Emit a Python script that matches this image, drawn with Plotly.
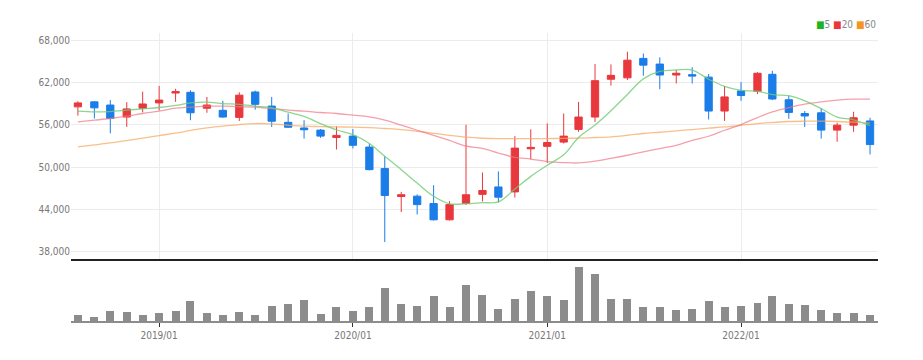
import pandas as pd
import plotly.graph_objects as go

dates = pd.date_range("2018-08-01", periods=50, freq="MS")

open_ = [58540, 59250, 58800, 57100, 58350, 59100, 60500, 60600, 58350, 58050,
         57050, 60650, 58650, 56350, 55550, 55250, 54200, 54400, 52850, 49800,
         45850, 45900, 44850, 42550, 44850, 46150, 47200, 46500, 52600, 52950,
         53550, 55350, 57100, 62450, 62650, 65400, 64600, 63050, 63100, 62750,
         57950, 60800, 60750, 63150, 59550, 57600, 57700, 55250, 55950, 56550]
high = [59350, 59350, 59500, 59200, 60700, 61500, 61100, 60900, 59950, 59400,
        60600, 60850, 59950, 57600, 56650, 55400, 55800, 55400, 53350, 51550,
        46500, 46150, 47450, 45200, 56000, 49250, 49400, 54400, 55350, 56200,
        57600, 59250, 64600, 64550, 66350, 66100, 65550, 63750, 64150, 63200,
        61500, 62050, 63450, 63650, 60100, 57950, 58350, 56300, 57850, 57000]
low = [57300, 56900, 54800, 55700, 57750, 58050, 59250, 56650, 57700, 57000,
       56550, 58150, 55700, 55600, 54050, 54150, 52500, 52650, 49550, 39400,
       43650, 43300, 42450, 42450, 44650, 45150, 45000, 45700, 51100, 50600,
       53350, 55000, 56400, 61550, 62350, 62950, 61050, 61850, 61850, 56750,
       56550, 59400, 60350, 59500, 56850, 55700, 54050, 53600, 55000, 51800]
close = [59100, 58400, 56900, 58250, 58950, 59500, 60700, 57700, 58800, 57100,
         60200, 58900, 56500, 55650, 55300, 54400, 54500, 53100, 49650, 46000,
         46100, 44700, 42550, 44700, 46100, 46700, 45750, 52700, 52800, 53500,
         54400, 57100, 62250, 63000, 65150, 64450, 63050, 63300, 62900, 57950,
         59950, 60150, 63300, 59650, 57750, 57250, 55250, 55950, 57000, 53200]

ma5 = [57930, 57830, 57880, 58070, 58260, 58450, 58750, 59100, 59200, 59000,
       58900, 58650, 58400, 57780, 57200, 56180, 55300, 54600, 53350, 51550,
       49650, 47750, 45880, 44820, 44830, 44970, 45100, 46900, 48700, 50280,
       51750, 54200, 55970, 58000, 60300, 62500, 63550, 63760, 63750, 62450,
       61450, 60880, 60750, 60270, 60120, 59400, 58300, 57100, 56700, 55900]
ma20 = [56410, 56650, 56890, 57220, 57600, 57930, 58350, 58500, 58640, 58640,
        58560, 58520, 58310, 58070, 57930, 57740, 57600, 57360, 57120, 56650,
        55940, 55230, 54520, 53800, 53000, 52650, 52000, 51400, 51150, 50800,
        50650, 50600, 50850, 51250, 51690, 52160, 52640, 53100, 53810, 54380,
        55230, 56040, 57030, 57830, 58450, 58920, 59250, 59490, 59630, 59630]
ma60 = [52870, 53150, 53430, 53770, 54100, 54480, 54810, 55200, 55560, 55800,
        56040, 56180, 56130, 55940, 55800, 55750, 55700, 55680, 55600, 55480,
        55330, 55090, 54800, 54500, 54250, 54100, 54050, 54050, 54050, 54050,
        54080, 54120, 54200, 54300, 54520, 54770, 54950, 55140, 55330, 55520,
        55700, 55940, 56180, 56330, 56470, 56510, 56510, 56470, 56370, 56250]

volume = [6.4, 4.0, 9.7, 9.0, 6.4, 8.0, 10.0, 19.7, 7.7, 5.7,
          9.0, 6.4, 14.7, 17.0, 20.7, 6.7, 13.7, 10.0, 13.7, 32.7,
          17.4, 14.7, 24.7, 13.7, 35.7, 25.7, 12.4, 22.4, 29.7, 24.7,
          20.7, 54.0, 46.7, 22.4, 22.4, 14.0, 14.0, 10.7, 12.4, 19.7,
          14.0, 15.0, 17.7, 24.7, 16.7, 16.4, 10.7, 8.0, 8.0, 5.7]

year_ticks = ["2019-01-01", "2020-01-01", "2021-01-01", "2022-01-01"]
year_labels = ["2019/01", "2020/01", "2021/01", "2022/01"]
price_ticks = [38000, 44000, 50000, 56000, 62000, 68000]

RED = "#e8383d"
BLUE = "#1a7de8"
FONT = "Liberation Sans Narrow, DejaVu Sans Condensed, sans-serif"
xrange_ = ["2018-07-19", "2022-09-16"]

fig = go.Figure()
fig.add_trace(go.Candlestick(
    x=dates, open=open_, high=high, low=low, close=close,
    increasing=dict(line=dict(color=RED, width=1), fillcolor=RED),
    decreasing=dict(line=dict(color=BLUE, width=1), fillcolor=BLUE),
    whiskerwidth=0, xaxis="x2", yaxis="y", showlegend=False))
for vals, col in [(ma60, "rgba(247,170,100,0.75)"), (ma20, "rgba(240,120,135,0.7)"),
                  (ma5, "rgba(110,205,115,0.8)")]:
    fig.add_trace(go.Scatter(x=dates, y=vals, mode="lines", line=dict(color=col, width=1.3, shape="spline"),
                             xaxis="x2", yaxis="y", showlegend=False, hoverinfo="skip"))
fig.add_trace(go.Bar(x=dates, y=volume, marker=dict(color="#8c8c8c", line=dict(width=0)),
                     width=15 * 86400000, xaxis="x", yaxis="y2", showlegend=False))

fig.update_layout(
    width=923, height=360,
    margin=dict(l=63, r=53, t=25, b=47),
    paper_bgcolor="white", plot_bgcolor="white",
    font=dict(family=FONT, size=10, color="#777"),
    xaxis=dict(type="date", range=xrange_, anchor="y2", domain=[0, 1],
               tickvals=year_ticks, ticktext=year_labels, showgrid=False,
               ticks="outside", ticklen=4, tickcolor="#333", tickwidth=1,
               showline=True, linecolor="#8c8c8c", linewidth=2,
               rangeslider=dict(visible=False), tickfont=dict(size=10, color="#777")),
    xaxis2=dict(type="date", range=xrange_, anchor="y", matches="x",
                tickvals=year_ticks, showticklabels=False, showgrid=True, gridcolor="#ececec",
                showline=True, linecolor="#222", linewidth=2, ticks="",
                rangeslider=dict(visible=False)),
    yaxis=dict(domain=[0.2153, 1], range=[37000, 69000], tickvals=price_ticks,
               tickformat=",", showgrid=True, gridcolor="#ececec", zeroline=False,
               ticks="", tickfont=dict(size=10, color="#777")),
    yaxis2=dict(domain=[0, 0.2049], range=[0, 59], showticklabels=False,
                showgrid=False, zeroline=False),
    bargap=0,
)

legend_text = ('<span style="color:#22b322">■</span>5 '
               '<span style="color:#e8383d">■</span>20 '
               '<span style="color:#f5941e">■</span>60')
fig.add_annotation(text=legend_text, xref="paper", yref="paper", x=1.0, y=1.028,
                   xanchor="right", yanchor="middle", showarrow=False,
                   font=dict(family=FONT, size=10, color="#888"))

fig.write_html("out.html")
